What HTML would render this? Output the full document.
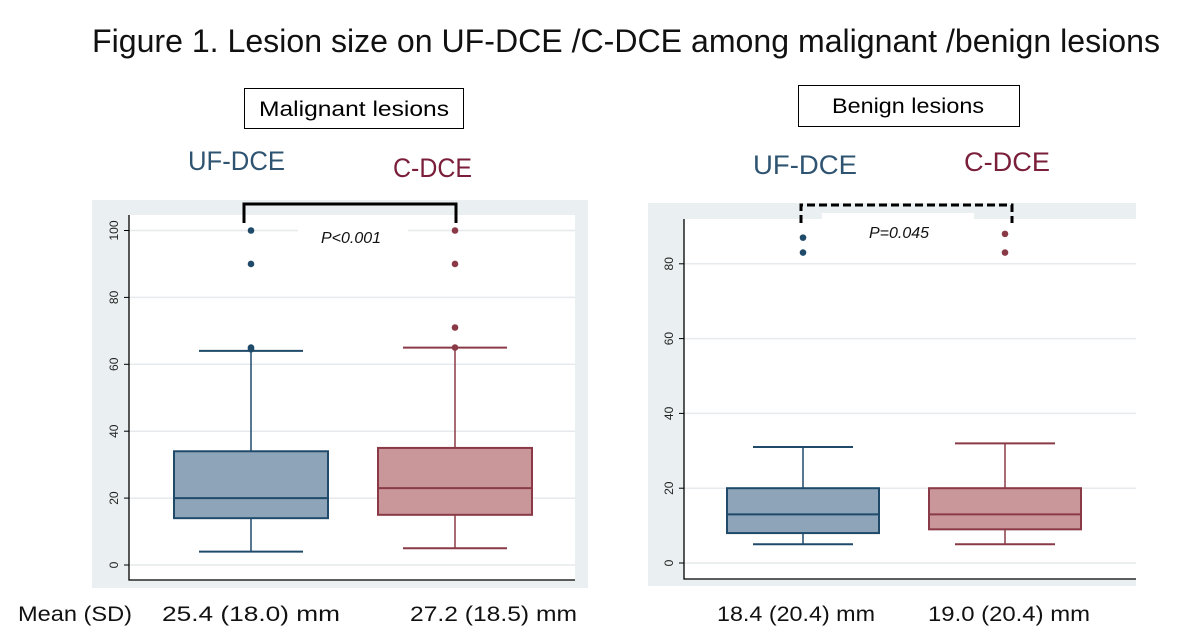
<!DOCTYPE html>
<html><head><meta charset="utf-8"><style>
body{margin:0;background:#fff;}
svg{display:block;font-family:"Liberation Sans",sans-serif;}
</style></head><body>
<svg id="fig" width="1182" height="641" viewBox="0 0 1182 641" xmlns="http://www.w3.org/2000/svg">
<text x="92" y="52" font-size="32" fill="#111" textLength="1068" lengthAdjust="spacingAndGlyphs">Figure 1. Lesion size on UF-DCE /C-DCE among malignant /benign lesions</text>
<rect x="244.5" y="88.5" width="219" height="40" fill="#fff" stroke="#000"/>
<text x="354" y="116" font-size="21" text-anchor="middle" textLength="190" lengthAdjust="spacingAndGlyphs">Malignant lesions</text>
<rect x="798.5" y="85.5" width="221" height="41" fill="#fff" stroke="#000"/>
<text x="908" y="113" font-size="21" text-anchor="middle" textLength="152" lengthAdjust="spacingAndGlyphs">Benign lesions</text>
<text x="188" y="170" font-size="27" fill="#2f5472" textLength="97" lengthAdjust="spacingAndGlyphs">UF-DCE</text>
<text x="393" y="177" font-size="27" fill="#7a1e3a" textLength="79" lengthAdjust="spacingAndGlyphs">C-DCE</text>
<text x="753" y="174" font-size="27" fill="#2f5472" textLength="104" lengthAdjust="spacingAndGlyphs">UF-DCE</text>
<text x="964" y="171" font-size="27" fill="#7a1e3a" textLength="86" lengthAdjust="spacingAndGlyphs">C-DCE</text>
<g font-size="21" fill="#111">
<text x="18" y="621" textLength="114" lengthAdjust="spacingAndGlyphs">Mean (SD)</text>
<text x="162" y="621" textLength="178" lengthAdjust="spacingAndGlyphs">25.4 (18.0) mm</text>
<text x="410" y="621" textLength="167" lengthAdjust="spacingAndGlyphs">27.2 (18.5) mm</text>
<text x="717" y="621" textLength="158" lengthAdjust="spacingAndGlyphs">18.4 (20.4) mm</text>
<text x="928" y="621" textLength="162" lengthAdjust="spacingAndGlyphs">19.0 (20.4) mm</text>
</g>
</svg>
<script>
// Malignant panel data
const malCategories = ["UF-DCE", "C-DCE"];
const malWhiskerLow = [4, 5];
const malQ1 = [14, 15];
const malMedian = [20, 23];
const malQ3 = [34, 35];
const malWhiskerHigh = [64, 65];
const malOutliers = [[64.5, 65, 90, 100], [65, 71, 90, 100]];
const malTicks = [0, 20, 40, 60, 80, 100];
// Benign panel data
const benCategories = ["UF-DCE", "C-DCE"];
const benWhiskerLow = [5, 5];
const benQ1 = [8, 9];
const benMedian = [13, 13];
const benQ3 = [20, 20];
const benWhiskerHigh = [31, 32];
const benOutliers = [[83, 87], [83, 88]];
const benTicks = [0, 20, 40, 60, 80];

const NS = "http://www.w3.org/2000/svg";
const svg = document.getElementById("fig");
function mk(tag, attrs, parent) {
  const e = document.createElementNS(NS, tag);
  for (const k in attrs) e.setAttribute(k, attrs[k]);
  (parent || svg).appendChild(e);
  return e;
}
const fills = ["#8ea4b8", "#c9969a"];
const strokes = ["#1f4a6a", "#8a3a47"];

function panel(cfg, d) {
  const g = mk("g", {});
  
  
  const bg = mk("rect", {x: cfg.ox, y: cfg.oy, width: cfg.ow, height: cfg.oh, fill: "#eaf0f2"}, g);
  
  
  const pl = mk("rect", {x: cfg.px, y: cfg.py, width: cfg.pw, height: cfg.ph, fill: "#fff"}, g);
  
  
  const y = v => cfg.y0 - v * cfg.k;
  d.ticks.forEach(t => {
    const gl = mk("line", {x1: cfg.px, x2: cfg.px + cfg.pw, y1: y(t), y2: y(t), stroke: "#e6eaec", "stroke-width": 1.5}, g);
    
    
    const tk = mk("line", {x1: cfg.px - 5, x2: cfg.px, y1: y(t), y2: y(t), stroke: "#000"}, g);
    
    
    const tl = mk("text", {x: 0, y: 0, "font-size": 12, "text-anchor": "middle", fill: "#222",
      transform: `translate(${cfg.px - 11},${y(t)}) rotate(-90)`}, g);
    tl.textContent = t;
    
    
  });
  const ax = mk("path", {d: `M${cfg.px} ${cfg.py}V${cfg.py + cfg.ph}H${cfg.px + cfg.pw}`, fill: "none", stroke: "#000", "stroke-width": 1.3}, g);
  
  
  // label background & bracket
  const lb = mk("rect", {x: cfg.lbx, y: cfg.lby, width: cfg.lbw, height: 20, fill: "#fff"}, g);
  
  
  for (let i = 0; i < 2; i++) {
    const cx = cfg.cx[i], bw = cfg.bw, cw = cfg.cw;
    const bg2 = mk("g", {}, g);
    
    
    const wl = mk("line", {x1: cx, x2: cx, y1: y(d.lo[i]), y2: y(d.q1[i]), stroke: strokes[i], "stroke-width": 1.5}, bg2);
    
    
    const wh = mk("line", {x1: cx, x2: cx, y1: y(d.q3[i]), y2: y(d.hi[i]), stroke: strokes[i], "stroke-width": 1.5}, bg2);
    
    
    [d.lo[i], d.hi[i]].forEach(v => {
      const c = mk("line", {x1: cx - cw / 2, x2: cx + cw / 2, y1: y(v), y2: y(v), stroke: strokes[i], "stroke-width": 2}, bg2);
      
      
    });
    const r = mk("rect", {x: cx - bw / 2, y: y(d.q3[i]), width: bw, height: y(d.q1[i]) - y(d.q3[i]), fill: fills[i], stroke: strokes[i], "stroke-width": 2}, bg2);
    
    
    const m = mk("line", {x1: cx - bw / 2, x2: cx + bw / 2, y1: y(d.med[i]), y2: y(d.med[i]), stroke: strokes[i], "stroke-width": 2}, bg2);
    
    
    d.out[i].forEach(v => {
      const o = mk("circle", {cx: cx, cy: y(v), r: 3.3, fill: strokes[i]}, bg2);
      
      
    });
  }
  const br = mk("path", {d: `M${cfg.bx1} ${cfg.by2}V${cfg.by1}H${cfg.bx2}V${cfg.by2}`, fill: "none", stroke: "#000", "stroke-width": 3, "stroke-dasharray": cfg.dash}, g);
  
  
  const pt = mk("text", {x: cfg.ptx, y: cfg.pty, "font-size": 16, "font-style": "italic", "text-anchor": "middle", fill: "#111"}, g);
  pt.textContent = cfg.ptext;
  
  
}

panel({name: "malignant-boxplot", ox: 92, oy: 200, ow: 496, oh: 388, px: 129, py: 215, pw: 446, ph: 365,
  y0: 565, k: 3.345, cx: [251, 455], bw: 154, cw: 104,
  lbx: 298, lby: 222, lbw: 110, bx1: 244, bx2: 456, by1: 204, by2: 223, dash: "none",
  ptx: 351, pty: 243, ptext: "P<0.001"},
  {cats: malCategories, lo: malWhiskerLow, q1: malQ1, med: malMedian, q3: malQ3, hi: malWhiskerHigh, out: malOutliers, ticks: malTicks});

panel({name: "benign-boxplot", ox: 648, oy: 203, ow: 488, oh: 383, px: 684, py: 219, pw: 452, ph: 360,
  y0: 563, k: 3.74, cx: [803, 1005], bw: 152, cw: 100,
  lbx: 822, lby: 213, lbw: 152, bx1: 801, bx2: 1012, by1: 205, by2: 223, dash: "8 4",
  ptx: 899, pty: 238, ptext: "P=0.045"},
  {cats: benCategories, lo: benWhiskerLow, q1: benQ1, med: benMedian, q3: benQ3, hi: benWhiskerHigh, out: benOutliers, ticks: benTicks});
</script>
</body></html>
